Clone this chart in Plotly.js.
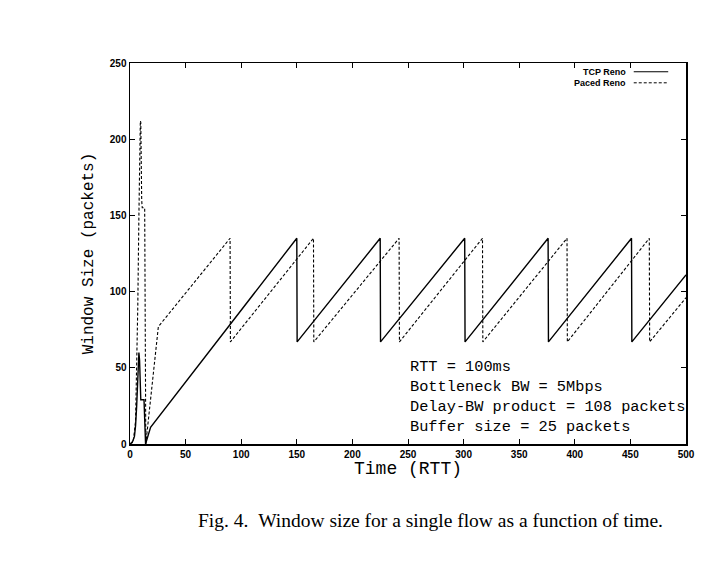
<!DOCTYPE html>
<html>
<head>
<meta charset="utf-8">
<script src="https://cdn.plot.ly/plotly-3.0.1.min.js"></script>
<style>html,body{margin:0;padding:0;background:#fff}#chart{width:722px;height:562px}</style>
</head>
<body>
<div id="chart"></div>
<script>
// Data (time in RTT, window in packets)
const tcpName = "TCP Reno";
const tcpX = [0, 2, 4, 5, 6, 7, 8, 8.6, 9.2, 9.7, 12.6, 13.6, 14, 18.5, 150, 150.3, 225, 225.3, 301, 301.3, 376, 376.3, 451, 451.3, 500];
const tcpY = [0, 1, 5, 12, 25, 45, 60, 55, 45, 29, 29, 2, 0, 11, 135, 67, 135, 67, 135, 67, 135, 67, 135, 67, 111];

const pacedName = "Paced Reno";
const pacedX = [0, 3, 5, 6, 7, 8, 9, 9.3, 9.7, 10.5, 11, 13.2, 13.7, 14.2, 25.5, 90, 90.3, 165, 165.3, 242, 242.3, 317, 317.3, 393, 393.3, 467, 467.3, 500];
const pacedY = [0, 2, 15, 45, 90, 150, 205, 212, 211, 160, 155, 155, 2, 0, 77, 135, 67, 135, 67, 135, 67, 135, 67, 135, 67, 135, 67, 96];

const xTicks = [0, 50, 100, 150, 200, 250, 300, 350, 400, 450, 500];
const yTicks = [0, 50, 100, 150, 200, 250];

const infoLines = ["RTT = 100ms", "Bottleneck BW = 5Mbps", "Delay-BW product = 108 packets", "Buffer size = 25 packets"];
const captionText = "Fig. 4.&nbsp;&nbsp;Window size for a single flow as a function of time.";

const mono = "'Liberation Mono', 'DejaVu Sans Mono', monospace";
const sans = "'Liberation Sans', Arial, sans-serif";

const traces = [
  {x: tcpX, y: tcpY, name: tcpName, type: "scatter", mode: "lines",
   line: {color: "#000", width: 1.4}},
  {x: pacedX, y: pacedY, name: pacedName, type: "scatter", mode: "lines",
   line: {color: "#000", width: 1.1, dash: "3px,2px"}}
];

const axisCommon = {
  showline: true, linecolor: "#000", linewidth: 1.5, mirror: "allticks",
  ticks: "inside", ticklen: 5, tickwidth: 1, tickcolor: "#000",
  showgrid: false, zeroline: false,
  tickfont: {family: sans, size: 10, color: "#000", weight: "bold"}
};

const layout = {
  width: 722, height: 562,
  margin: {l: 130, r: 36, t: 63, b: 118},
  paper_bgcolor: "#fff", plot_bgcolor: "#fff",
  showlegend: false,
  xaxis: Object.assign({}, axisCommon, {
    range: [0, 500], tickvals: xTicks, ticktext: xTicks.map(String),
    title: {text: "Time (RTT)", font: {family: mono, size: 18, color: "#000"}, standoff: 0}
  }),
  yaxis: Object.assign({}, axisCommon, {
    range: [0, 250], tickvals: yTicks, ticktext: yTicks.map(String),
    title: {text: "Window Size (packets)", font: {family: mono, size: 16, color: "#000"}, standoff: 12}
  }),
  annotations: [
    {xref: "paper", yref: "paper", x: 0.896, y: 0.977, xanchor: "right", yanchor: "middle",
     text: tcpName, showarrow: false, font: {family: sans, size: 9, color: "#000", weight: "bold"}},
    {xref: "paper", yref: "paper", x: 0.896, y: 0.948, xanchor: "right", yanchor: "middle",
     text: pacedName, showarrow: false, font: {family: sans, size: 9, color: "#000", weight: "bold"}},
    {xref: "paper", yref: "paper", x: 0.5, y: 0.123, xanchor: "left", yanchor: "middle", align: "left",
     text: infoLines.join("<br>"), showarrow: false, font: {family: mono, size: 15.3, color: "#000"}},
    {xref: "paper", yref: "paper", x: 0.54, y: -0.2, xanchor: "center", yanchor: "middle",
     text: captionText, showarrow: false, font: {family: "'Liberation Serif', 'Times New Roman', serif", size: 19.5, color: "#000"}}
  ],
  shapes: [
    {type: "line", xref: "paper", yref: "paper", x0: 0.906, x1: 0.968, y0: 0.977, y1: 0.977,
     line: {color: "#000", width: 1.2}},
    {type: "line", xref: "paper", yref: "paper", x0: 0.906, x1: 0.968, y0: 0.948, y1: 0.948,
     line: {color: "#000", width: 1, dash: "3px,2px"}}
  ]
};

Plotly.newPlot("chart", traces, layout, {staticPlot: true, displayModeBar: false});
</script>
</body>
</html>
